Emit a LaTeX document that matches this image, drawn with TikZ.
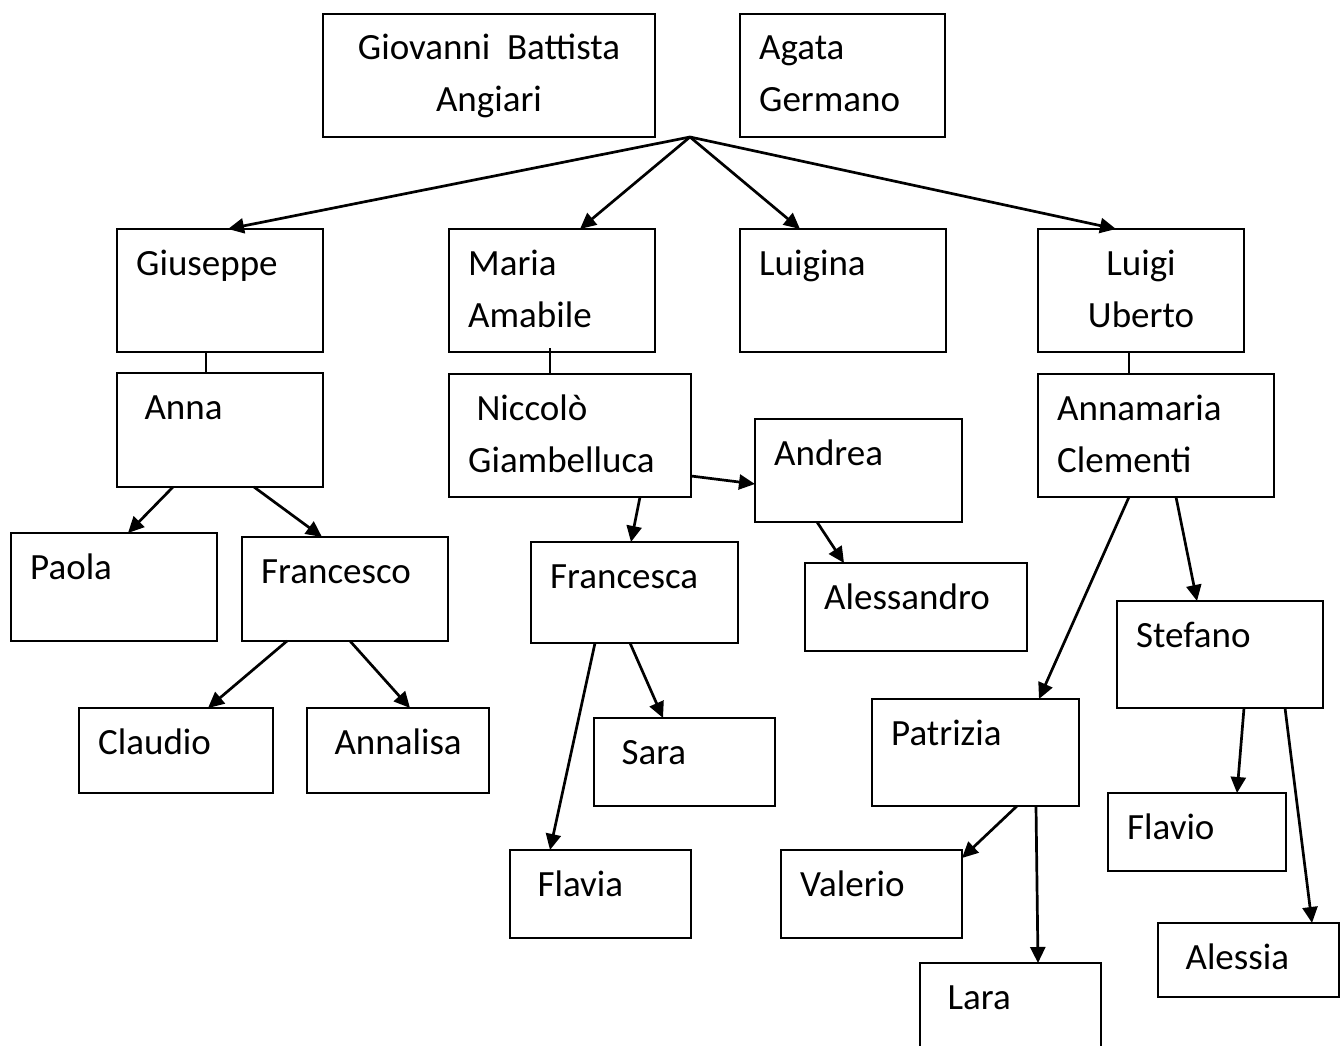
\documentclass[tikz,border=0pt]{standalone}
\usepackage{fontspec}
\setmainfont{Carlito}
\usetikzlibrary{arrows.meta}

\begin{document}
\begin{tikzpicture}[x=1pt,y=-1pt,
    >={Triangle[length=16pt,width=15pt]},
    box/.style={draw,line width=2pt,rectangle,inner sep=0pt,outer sep=0pt,anchor=north west},
    who/.style={inner sep=0pt,anchor=base west,align=left,font=\fontsize{37}{52}\selectfont},
    son/.style={->,line width=2.7pt},
    tie/.style={line width=1.5pt}]
    \useasboundingbox (0,0) rectangle (1341,1046);
    \node [box,minimum width=332,minimum height=123] (gba) at (323,14) {};
    \node [who,anchor=base,align=center] (gba-t) at ([shift={(0,98)}]gba.north) {Giovanni\ \ Battista\\Angiari};
    \node [box,minimum width=205,minimum height=123] (agata) at (740,14) {};
    \node [who] (agata-t) at ([shift={(19,98)}]agata.north west) {Agata\\Germano};
    \node [box,minimum width=206,minimum height=123] (giuseppe) at (117,229) {};
    \node [who] (giuseppe-t) at ([shift={(19,46)}]giuseppe.north west) {Giuseppe};
    \node [box,minimum width=206,minimum height=123] (maria) at (449,229) {};
    \node [who] (maria-t) at ([shift={(19,98)}]maria.north west) {Maria\\Amabile};
    \node [box,minimum width=206,minimum height=123] (luigina) at (740,229) {};
    \node [who] (luigina-t) at ([shift={(19,46)}]luigina.north west) {Luigina};
    \node [box,minimum width=206,minimum height=123] (luigi) at (1038,229) {};
    \node [who,anchor=base,align=center] (luigi-t) at ([shift={(0,98)}]luigi.north) {Luigi\\Uberto};
    \node [box,minimum width=206,minimum height=114] (anna) at (117,373) {};
    \node [who] (anna-t) at ([shift={(19,46)}]anna.north west) {\ Anna};
    \node [box,minimum width=242,minimum height=123] (niccolo) at (449,374) {};
    \node [who] (niccolo-t) at ([shift={(19,98)}]niccolo.north west) {\ Niccolò\\Giambelluca};
    \node [box,minimum width=236,minimum height=123] (annamaria) at (1038,374) {};
    \node [who] (annamaria-t) at ([shift={(19,98)}]annamaria.north west) {Annamaria\\Clementi};
    \node [box,minimum width=207,minimum height=103] (andrea) at (755,419) {};
    \node [who] (andrea-t) at ([shift={(19,46)}]andrea.north west) {Andrea};
    \node [box,minimum width=206,minimum height=108] (paola) at (11,533) {};
    \node [who] (paola-t) at ([shift={(19,46)}]paola.north west) {Paola};
    \node [box,minimum width=206,minimum height=104] (francesco) at (242,537) {};
    \node [who] (francesco-t) at ([shift={(19,46)}]francesco.north west) {Francesco};
    \node [box,minimum width=207,minimum height=101] (francesca) at (531,542) {};
    \node [who] (francesca-t) at ([shift={(19,46)}]francesca.north west) {Francesca};
    \node [box,minimum width=222,minimum height=88] (alessandro) at (805,563) {};
    \node [who] (alessandro-t) at ([shift={(19,46)}]alessandro.north west) {Alessandro};
    \node [box,minimum width=206,minimum height=107] (stefano) at (1117,601) {};
    \node [who] (stefano-t) at ([shift={(19,46)}]stefano.north west) {Stefano};
    \node [box,minimum width=207,minimum height=107] (patrizia) at (872,699) {};
    \node [who] (patrizia-t) at ([shift={(19,46)}]patrizia.north west) {Patrizia};
    \node [box,minimum width=194,minimum height=85] (claudio) at (79,708) {};
    \node [who] (claudio-t) at ([shift={(19,46)}]claudio.north west) {Claudio};
    \node [box,minimum width=182,minimum height=85] (annalisa) at (307,708) {};
    \node [who] (annalisa-t) at ([shift={(19,46)}]annalisa.north west) {\ Annalisa};
    \node [box,minimum width=181,minimum height=88] (sara) at (594,718) {};
    \node [who] (sara-t) at ([shift={(19,46)}]sara.north west) {\ Sara};
    \node [box,minimum width=178,minimum height=78] (flavio) at (1108,793) {};
    \node [who] (flavio-t) at ([shift={(19,46)}]flavio.north west) {Flavio};
    \node [box,minimum width=181,minimum height=88] (flavia) at (510,850) {};
    \node [who] (flavia-t) at ([shift={(19,46)}]flavia.north west) {\ Flavia};
    \node [box,minimum width=181,minimum height=88] (valerio) at (781,850) {};
    \node [who] (valerio-t) at ([shift={(19,46)}]valerio.north west) {Valerio};
    \node [box,minimum width=181,minimum height=74] (alessia) at (1158,923) {};
    \node [who] (alessia-t) at ([shift={(19,46)}]alessia.north west) {\ Alessia};
    \node [box,minimum width=181,minimum height=100] (lara) at (920,963) {};
    \node [who] (lara-t) at ([shift={(19,46)}]lara.north west) {\ Lara};
    \coordinate (fork) at (690,137);
    \draw [son] (fork) -- ([shift={(111,0)}]giuseppe.north west);
    \draw [son] (fork) -- ([shift={(131,0)}]maria.north west);
    \draw [son] (fork) -- ([shift={(60,0)}]luigina.north west);
    \draw [son] (fork) -- ([shift={(78,0)}]luigi.north west);
    \draw [tie] ([shift={(89,0)}]giuseppe.south west) -- ([shift={(89,0)}]anna.north west);
    \draw [tie] ([shift={(101,-4)}]maria.south west) -- ([shift={(101,0)}]niccolo.north west);
    \draw [tie] ([shift={(91,0)}]luigi.south west) -- ([shift={(91,0)}]annamaria.north west);
    \draw [son] ([shift={(56,0)}]anna.south west) -- ([shift={(117,0)}]paola.north west);
    \draw [son] ([shift={(137,0)}]anna.south west) -- ([shift={(80,0)}]francesco.north west);
    \draw [son] ([shift={(45,0)}]francesco.south west) -- ([shift={(129,0)}]claudio.north west);
    \draw [son] ([shift={(108,0)}]francesco.south west) -- ([shift={(103,0)}]annalisa.north west);
    \draw [son] ([shift={(0,102)}]niccolo.north east) -- ([shift={(0,65)}]andrea.north west);
    \draw [son] ([shift={(191,0)}]niccolo.south west) -- ([shift={(100,0)}]francesca.north west);
    \draw [son] ([shift={(62,0)}]andrea.south west) -- ([shift={(39,0)}]alessandro.north west);
    \draw [son] ([shift={(99,0)}]francesca.south west) -- ([shift={(69,0)}]sara.north west);
    \draw [son] ([shift={(64,0)}]francesca.south west) -- ([shift={(40,0)}]flavia.north west);
    \draw [son] ([shift={(91,0)}]annamaria.south west) -- ([shift={(167,0)}]patrizia.north west);
    \draw [son] ([shift={(138,0)}]annamaria.south west) -- ([shift={(80,0)}]stefano.north west);
    \draw [son] ([shift={(127,0)}]stefano.south west) -- ([shift={(129,0)}]flavio.north west);
    \draw [son] ([shift={(168,0)}]stefano.south west) -- ([shift={(154,0)}]alessia.north west);
    \draw [son] ([shift={(145,0)}]patrizia.south west) -- ([shift={(0,8)}]valerio.north east);
    \draw [son] ([shift={(164,0)}]patrizia.south west) -- ([shift={(118,0)}]lara.north west);
\end{tikzpicture}
\end{document}
